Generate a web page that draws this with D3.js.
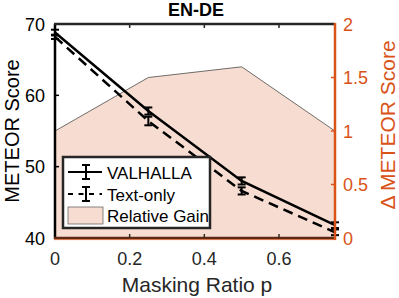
<!DOCTYPE html>
<html><head><meta charset="utf-8">
<script src="https://cdn.jsdelivr.net/npm/d3@7"></script>
<style>body{margin:0;background:#fff}svg{display:block}text{font-family:"Liberation Sans",Arial,Helvetica,sans-serif}</style>
</head><body>
<svg id="c" width="399" height="298"></svg>
<script>
const maskRatio = [0, 0.25, 0.5, 0.75];
const valhalla = [68.8, 57.8, 48.0, 41.8];
const valhallaErr = [0.4, 0.5, 0.5, 0.4];
const textOnly = [68.2, 56.4, 46.6, 40.8];
const textOnlyErr = [0.3, 0.6, 0.5, 0.4];
const relGain = [1.0, 1.5, 1.6, 1.0];
const xTicks = [0, 0.2, 0.4, 0.6];
const yLTicks = [40, 50, 60, 70];
const yRTicks = [0, 0.5, 1, 1.5, 2];
const title = "EN-DE";
const orange = "#D95319";

const svg = d3.select("#c");
const x = d3.scaleLinear([0, 0.75], [55, 335]);
const yL = d3.scaleLinear([40, 70], [238, 24]);
const yR = d3.scaleLinear([0, 2], [238, 24]);

// area
const area = d3.area().x((d,i)=>x(maskRatio[i])).y0(yR(0)).y1(d=>yR(d));
svg.append("path").datum(relGain).attr("d", area).attr("fill", "rgb(247,221,209)");
const topLine = d3.line().x((d,i)=>x(maskRatio[i])).y(d=>yR(d));
svg.append("path").datum(relGain).attr("d", topLine).attr("fill","none").attr("stroke","#333").attr("stroke-width",0.7);

// lines
const line = d3.line().x((d,i)=>x(maskRatio[i])).y(d=>yL(d));
function series(vals, errs, dash) {
  svg.append("path").datum(vals).attr("d", line).attr("fill","none")
    .attr("stroke","#000").attr("stroke-width",2.5).attr("stroke-dasharray", dash);
  const g = svg.append("g").attr("stroke","#000").attr("stroke-width",2);
  vals.forEach((v,i)=>{
    const cx = x(maskRatio[i]);
    const y1 = yL(v+errs[i]), y2 = yL(v-errs[i]);
    g.append("line").attr("x1",cx).attr("x2",cx).attr("y1",y1).attr("y2",y2);
    g.append("line").attr("x1",cx-4).attr("x2",cx+4).attr("y1",y1).attr("y2",y1);
    g.append("line").attr("x1",cx-4).attr("x2",cx+4).attr("y1",y2).attr("y2",y2);
  });
}
series(textOnly, textOnlyErr, "10,6");
series(valhalla, valhallaErr, null);

// axes frame
const fs = 18;
svg.append("line").attr("x1",55).attr("x2",55).attr("y1",24).attr("y2",239).attr("stroke","#000").attr("stroke-width",2.5);
svg.append("line").attr("x1",54).attr("x2",335).attr("y1",24).attr("y2",24).attr("stroke","#262626").attr("stroke-width",2.5);
svg.append("line").attr("x1",54).attr("x2",335).attr("y1",238).attr("y2",238).attr("stroke","#5b2b17").attr("stroke-width",2.5);
svg.append("line").attr("x1",54).attr("x2",336).attr("y1",239.6).attr("y2",239.6).attr("stroke",orange).attr("stroke-width",0.8);
svg.append("line").attr("x1",335).attr("x2",335).attr("y1",23).attr("y2",240).attr("stroke",orange).attr("stroke-width",2.5);

// x ticks
xTicks.forEach(t=>{
  const px = x(t);
  if (t>0) {
    svg.append("line").attr("x1",px).attr("x2",px).attr("y1",24).attr("y2",28).attr("stroke","#262626").attr("stroke-width",1.5);
    svg.append("line").attr("x1",px).attr("x2",px).attr("y1",238).attr("y2",234).attr("stroke","#3a2a20").attr("stroke-width",1.5);
  }
  svg.append("text").attr("x",px).attr("y",265).attr("text-anchor","middle").attr("font-size",fs).attr("fill","#262626").text(d3.format("~g")(t));
});
yLTicks.forEach(t=>{
  const py = yL(t);
  if (t>40 && t<70) svg.append("line").attr("x1",55).attr("x2",59).attr("y1",py).attr("y2",py).attr("stroke","#000").attr("stroke-width",1.5);
  svg.append("text").attr("x",45).attr("y",py+6.5).attr("text-anchor","end").attr("font-size",fs).attr("fill","#000").text(t);
});
yRTicks.forEach(t=>{
  const py = yR(t);
  if (t>0 && t<2) svg.append("line").attr("x1",335).attr("x2",331).attr("y1",py).attr("y2",py).attr("stroke",orange).attr("stroke-width",1.5);
  svg.append("text").attr("x",343).attr("y",py+6.5).attr("text-anchor","start").attr("font-size",fs).attr("fill",orange).text(t);
});

// labels
svg.append("text").attr("x",196).attr("y",16).attr("text-anchor","middle").attr("font-size",18).attr("font-weight","bold").attr("fill","#000").text(title);
svg.append("text").attr("x",197).attr("y",292).attr("text-anchor","middle").attr("font-size",21).attr("fill","#262626").text("Masking Ratio p");
svg.append("text").attr("transform","translate(18.5,131) rotate(-90)").attr("text-anchor","middle").attr("font-size",20).attr("fill","#000").text("METEOR Score");
svg.append("text").attr("transform","translate(395,125) rotate(-90)").attr("text-anchor","middle").attr("font-size",21).attr("fill",orange).text("\u0394 METEOR Score");

// legend
const lg = svg.append("g");
lg.append("rect").attr("x",63).attr("y",157).attr("width",147).attr("height",71).attr("fill","#fff").attr("stroke","#262626").attr("stroke-width",2.5);
const entries = [
  {label:"VALHALLA", y:172, dash:null},
  {label:"Text-only", y:194, dash:"5,5.5"}
];
entries.forEach(e=>{
  lg.append("line").attr("x1",68).attr("x2",102).attr("y1",e.y).attr("y2",e.y).attr("stroke","#000").attr("stroke-width",2).attr("stroke-dasharray",e.dash);
  lg.append("line").attr("x1",86).attr("x2",86).attr("y1",e.y-7).attr("y2",e.y+7).attr("stroke","#000").attr("stroke-width",2);
  lg.append("line").attr("x1",82).attr("x2",90).attr("y1",e.y-7).attr("y2",e.y-7).attr("stroke","#000").attr("stroke-width",2);
  lg.append("line").attr("x1",82).attr("x2",90).attr("y1",e.y+7).attr("y2",e.y+7).attr("stroke","#000").attr("stroke-width",2);
  lg.append("text").attr("x",107).attr("y",e.y+6.5).attr("font-size",17).attr("fill","#000").text(e.label);
});
lg.append("rect").attr("x",68).attr("y",207).attr("width",35).attr("height",17).attr("fill","rgb(247,221,209)").attr("stroke","#555").attr("stroke-width",0.7);
lg.append("text").attr("x",107).attr("y",222).attr("font-size",17).attr("fill","#000").text("Relative Gain");
</script>
</body></html>
